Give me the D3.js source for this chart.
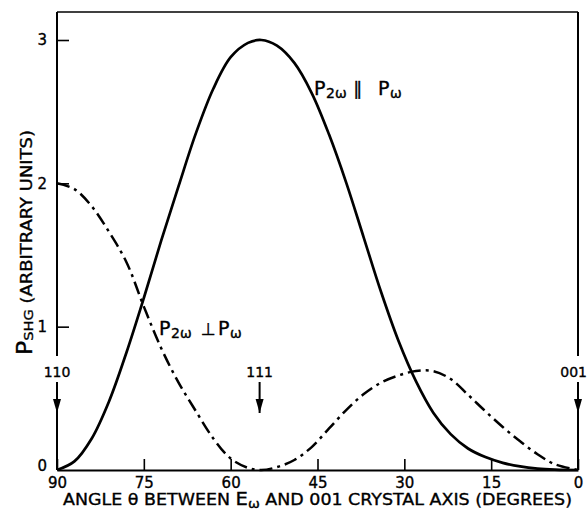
<!DOCTYPE html>
<html><head><meta charset="utf-8">
<script src="https://cdn.jsdelivr.net/npm/d3@7"></script>
<style>body{margin:0;background:#fff}svg{display:block}text{stroke:#000;stroke-width:0.35px}</style>
</head><body><svg id="c" width="588" height="512"></svg>
<script>
// ---- data ----
const xTicks = [90, 75, 60, 45, 30, 15, 0];
const yTicks = [0, 1, 2, 3];
const parAngle = [90, 87, 84, 81, 78, 75, 72, 69, 66, 63, 60, 57, 54.7, 52, 49, 46, 43, 40, 37, 34, 31, 28, 25, 22, 19, 16, 13, 10, 7, 4, 0];
const parValue = [0, 0.06, 0.22, 0.48, 0.82, 1.20, 1.60, 1.98, 2.35, 2.66, 2.88, 2.98, 3.0, 2.96, 2.84, 2.63, 2.34, 2.00, 1.62, 1.24, 0.90, 0.62, 0.40, 0.25, 0.15, 0.09, 0.05, 0.025, 0.01, 0.003, 0];
const perpAngle = [90, 87, 84, 81, 78, 75, 72, 69, 66, 63, 60, 57, 54.7, 52, 49, 46, 43, 40, 37, 34, 31, 28, 25, 22, 19, 16, 13, 10, 7, 4, 0];
const perpValue = [2.0, 1.96, 1.84, 1.66, 1.45, 1.14, 0.85, 0.61, 0.41, 0.22, 0.08, 0.015, 0, 0.02, 0.07, 0.16, 0.29, 0.42, 0.53, 0.61, 0.66, 0.69, 0.69, 0.635, 0.525, 0.41, 0.30, 0.20, 0.11, 0.04, 0];
const markerLabels = ["110", "111", "001"];
const markerAngles = [90, 55, 0];

// ---- layout ----
const svg = d3.select("#c");
const FONT = "'DejaVu Sans', sans-serif";
const x = d3.scaleLinear().domain([90, 0]).range([57, 578]);
const y = d3.scaleLinear().domain([0, 3]).range([470, 40]);
const frameTop = 12;

// axes
const gx = svg.append("g").attr("transform", `translate(0,${y(0)})`)
  .call(d3.axisBottom(x).tickValues(xTicks).tickSizeInner(-11).tickSizeOuter(0).tickPadding(7).tickFormat(d3.format("d")));
gx.select(".domain").attr("stroke", "#000").attr("stroke-width", 2);
gx.selectAll(".tick line").attr("stroke", "#000").attr("stroke-width", 1.6);
gx.selectAll(".tick text").attr("font-family", FONT).attr("font-size", 15).attr("fill", "#000");

const gy = svg.append("g").attr("transform", `translate(${x(90)},0)`)
  .call(d3.axisLeft(y).tickValues(yTicks).tickSizeInner(-12).tickSizeOuter(0).tickPadding(10).tickFormat(d3.format("d")));
gy.select(".domain").remove();
gy.selectAll(".tick line").attr("stroke", "#000").attr("stroke-width", 1.6).filter(d => d === 0).remove();
gy.selectAll(".tick text").attr("font-family", FONT).attr("font-size", 15).attr("fill", "#000")
  .filter(d => d === 0).attr("dy", "0.05em");

// frame: top line, left & right verticals with gaps for the direction labels
const frame = svg.append("g").attr("stroke", "#000").attr("fill", "none");
frame.append("line").attr("x1", x(90)).attr("x2", x(0)).attr("y1", frameTop).attr("y2", frameTop).attr("stroke-width", 1.5);
[x(90), x(0)].forEach(px => {
  frame.append("line").attr("x1", px).attr("x2", px).attr("y1", frameTop).attr("y2", 356).attr("stroke-width", 2);
});

// direction markers with arrows
markerAngles.forEach((a, i) => {
  const px = x(a);
  const t = svg.append("text").attr("y", 377)
    .attr("font-family", FONT).attr("font-size", 14).attr("fill", "#000").text(markerLabels[i]);
  if (i === 2) t.attr("x", 587).attr("text-anchor", "end");
  else t.attr("x", px).attr("text-anchor", "middle");
  const yEnd = (i === 1) ? 413 : y(0);
  svg.append("line").attr("x1", px).attr("x2", px).attr("y1", 382).attr("y2", yEnd)
    .attr("stroke", "#000").attr("stroke-width", 2);
  svg.append("path").attr("d", `M${px - 4},${399} L${px + 4},${399} L${px},${413} Z`).attr("fill", "#000");
});

// curves
const line = d3.line().x((d) => x(d[0])).y((d) => y(d[1])).curve(d3.curveCatmullRom.alpha(0.5));
const parPts = parAngle.map((a, i) => [a, parValue[i]]);
const perpPts = perpAngle.map((a, i) => [a, perpValue[i]]);
svg.append("path").attr("d", line(parPts)).attr("fill", "none").attr("stroke", "#000").attr("stroke-width", 2.7).attr("stroke-linejoin", "round");
svg.append("path").attr("d", line(perpPts)).attr("fill", "none").attr("stroke", "#000").attr("stroke-width", 2.5)
  .attr("stroke-dasharray", "13,5,3,5");

// curve labels
function piece(g, txt, px, py, size) {
  g.append("text").attr("x", px).attr("y", py).attr("font-family", FONT).attr("font-size", size).attr("fill", "#000").text(txt);
}
const lab1 = svg.append("g");
piece(lab1, "P", 314, 95, 19);
piece(lab1, "2ω", 326, 98, 14);
piece(lab1, "∥", 353, 95, 18);
piece(lab1, "P", 378, 95, 19);
piece(lab1, "ω", 390, 98, 14);
const lab2 = svg.append("g");
piece(lab2, "P", 159, 335, 19);
piece(lab2, "2ω", 171, 338, 14);
piece(lab2, "⊥", 201, 335, 17);
piece(lab2, "P", 218, 335, 19);
piece(lab2, "ω", 230, 338, 14);

// axis titles
const xt = svg.append("text").attr("x", 63).attr("y", 505).attr("font-family", FONT).attr("font-size", 16).attr("fill", "#000")
  .attr("textLength", 509).attr("lengthAdjust", "spacingAndGlyphs");
xt.append("tspan").text("ANGLE θ BETWEEN ");
xt.append("tspan").attr("font-size", 18).text("E");
xt.append("tspan").attr("font-size", 13).attr("dy", 3).text("ω");
xt.append("tspan").attr("dy", -3).text(" AND 001  CRYSTAL  AXIS  (DEGREES)");

const yt = svg.append("text").attr("transform", "translate(32,355) rotate(-90)").attr("font-family", FONT).attr("font-size", 16).attr("fill", "#000")
  .attr("textLength", 225).attr("lengthAdjust", "spacingAndGlyphs");
yt.append("tspan").attr("font-size", 21).text("P");
yt.append("tspan").attr("font-size", 13).attr("dy", 1).text("SHG");
yt.append("tspan").attr("dy", -1).text("  (ARBITRARY UNITS)");
</script></body></html>
